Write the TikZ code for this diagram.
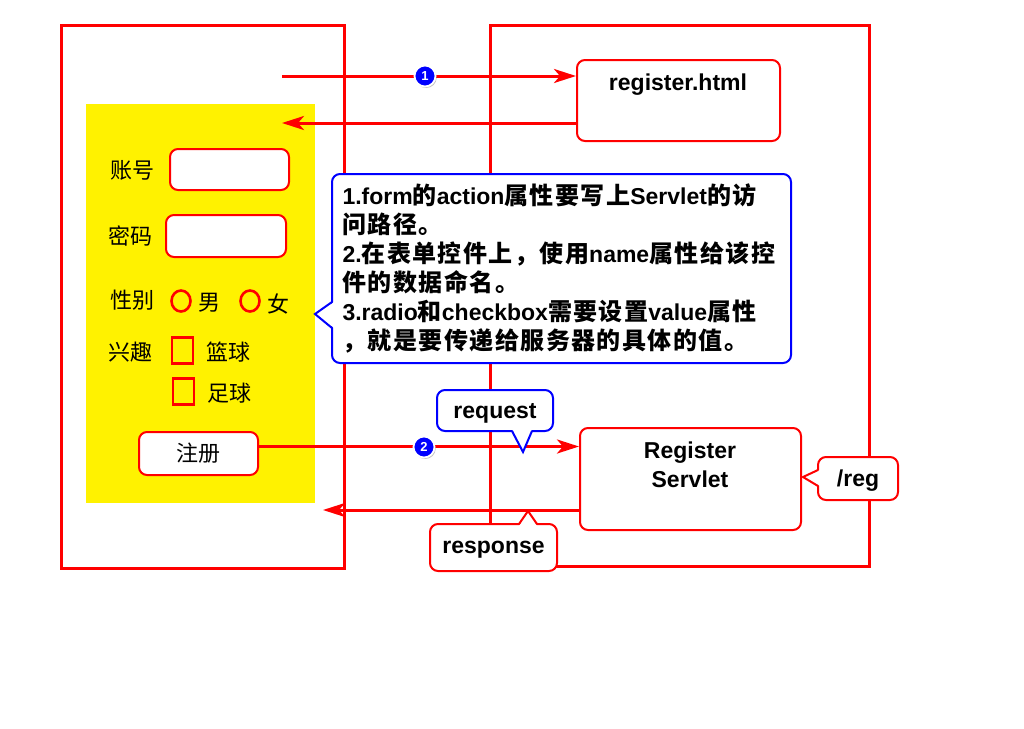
\documentclass[tikz,border=0pt]{standalone}
\usepackage{fontspec}
\setmainfont{Liberation Sans}
\newfontfamily\cjk{Noto Sans CJK SC}
\newfontfamily\cjkwide[LetterSpace=6]{Noto Sans CJK SC}
\usetikzlibrary{arrows.meta,shapes.geometric,shadows}

\newcommand\zh[1]{{\cjkwide\fontsize{24}{29}\selectfont #1}}

\tikzset{
  frame/.style={draw=red, line width=3pt},
  field/.style={draw=red, line width=2pt, rounded corners=8pt, fill=white, inner sep=0pt},
  radio/.style={ellipse, draw=red, line width=2.6pt, minimum width=19pt, minimum height=21pt, inner sep=0pt},
  check/.style={rectangle, draw=red, line width=2.6pt, minimum width=21pt, minimum height=26pt, inner sep=0pt},
  lbl/.style={font=\cjk\fontsize{22}{26}\selectfont},
  title/.style={font=\bfseries\fontsize{23}{29}\selectfont, align=center, text depth=0pt},
  msg/.style={red, line width=3pt, -{Stealth[length=22pt,width=14pt,inset=6pt]}},
  badge/.style={circle, fill=blue, draw=white, line width=1.8pt, text=white, inner sep=0pt,
    minimum size=21pt, font=\bfseries\fontsize{13}{13}\selectfont,
    drop shadow={shadow xshift=1.2pt, shadow yshift=-1.5pt, opacity=.45}},
  tip/.style={line width=2pt}
}

\begin{document}
\begin{tikzpicture}[x=1pt, y=-1pt]
  \useasboundingbox (0,0) rectangle (1024,728);

  % browser and server
  \draw[frame] (61,25) rectangle (344,568);
  \draw[frame] (490,25) rectangle (869,566);

  % form
  \fill[yellow] (86,104) rectangle (315,503);
  \node[lbl] (acc) at (132,170) {账号};
  \node[field, minimum width=119pt, minimum height=41pt] (accbox) at (229.5,169.5) {};
  \node[lbl] (pwd) at (130,236) {密码};
  \node[field, minimum width=120pt, minimum height=42pt] (pwdbox) at (226,236) {};
  \node[lbl] (sex) at (132,300) {性别};
  \node[radio] (male) at (181,301) {};
  \node[lbl] (maletxt) at (209,303) {男};
  \node[radio] (female) at (250,301) {};
  \node[lbl] (femaletxt) at (278,304) {女};
  \node[lbl] (hobby) at (130,352) {兴趣};
  \node[check] (ball1) at (182.5,350.5) {};
  \node[lbl] (ball1txt) at (228,352) {篮球};
  \node[check] (ball2) at (183.5,391.5) {};
  \node[lbl] (ball2txt) at (229,393) {足球};
  \node[field, lbl, minimum width=119pt, minimum height=43pt] (btn) at (198.5,453.5) {注册};

  % server resources
  \node[field, minimum width=203pt, minimum height=81pt] (html) at (678.5,100.5) {};
  \node[title] (htmltxt) at (678,82) {register.html};
  \node[field, minimum width=221pt, minimum height=102pt] (servlet) at (690.5,479) {};
  \node[title] (servlettxt) at (690,465) {Register\\Servlet};

  % first request
  \coordinate (go) at (282,76);
  \coordinate (back) at (282,123);
  \draw[msg] (go) -- (go -| html.west);
  \draw[msg] (html.west |- back) -- (back);
  \node[badge] (n1) at (425,76) {1};

  % second request
  \coordinate (resp) at (323,510);
  \draw[msg] ([yshift=7pt]btn.east) -- ([yshift=7pt]btn.east -| servlet.west);
  \draw[msg] (servlet.west |- resp) -- (resp);
  \node[badge] (n2) at (424,447) {2};

  % note
  \node[field, draw=blue, text width=438pt, minimum height=189pt, inner xsep=10.5pt, align=left,
        font=\bfseries\fontsize{23}{29}\selectfont] (note) at (561.5,268.5)
    {1.form\zh{的}action\zh{属性要写上}Servlet\zh{的访}\\
     \zh{问路径。}\\
     2.\zh{在表单控件上，使用}name\zh{属性给该控}\\
     \zh{件的数据命名。}\\
     3.radio\zh{和}checkbox\zh{需要设置}value\zh{属性}\\
     \zh{，就是要传递给服务器的具体的值。}};
  \fill[white] (334,302) -- (315,314) -- (334,328) -- cycle;
  \draw[tip, blue] (332,302) -- (315,314) -- (332,328);

  % request
  \node[field, draw=blue, title, minimum width=116pt, minimum height=41pt] (req) at (495,410.5) {request};
  \fill[white] (512,429) -- (523,452) -- (532,429) -- cycle;
  \draw[tip, blue] (512,431) -- (523,452) -- (532,431);

  % response
  \node[field, title, minimum width=127pt, minimum height=47pt] (res) at (493.5,547.5) {response};
  \fill[white] (519,526) -- (528,511) -- (537,526) -- cycle;
  \draw[tip, red] (519,524) -- (528,511) -- (537,524);

  % url pattern
  \node[field, title, minimum width=80pt, minimum height=43pt] (url) at (858,478.5) {/reg};
  \fill[white] (820,470) -- (803,477) -- (820,486) -- cycle;
  \draw[tip, red] (818,470) -- (803,477) -- (818,486);
\end{tikzpicture}
\end{document}
